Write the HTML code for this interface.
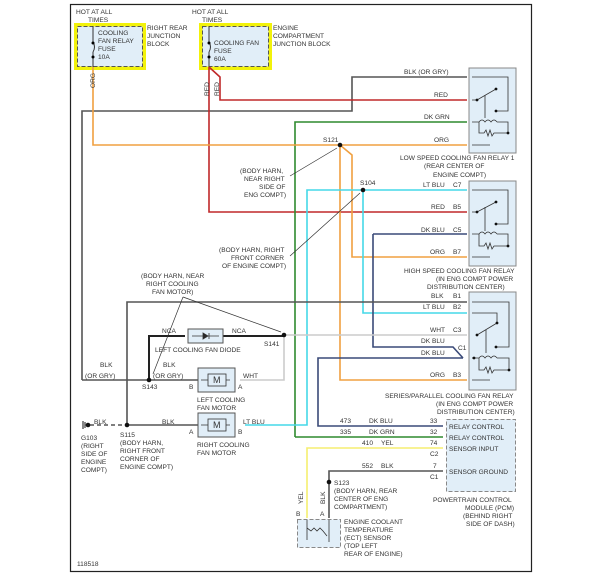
<!DOCTYPE html>
<html><head><meta charset="utf-8"><style>
body{margin:0;background:#fff}
svg{display:block}
text{font-family:"Liberation Sans",sans-serif;font-size:6.6px;fill:#333}
.w{fill:none;stroke-width:1.6}
</style></head><body>
<svg width="604" height="586" viewBox="0 0 604 586" xmlns="http://www.w3.org/2000/svg">
<rect x="70.5" y="4.5" width="461" height="567" fill="none" stroke="#222" stroke-width="1.2"/>
<!-- fuse boxes -->
<rect x="74" y="23" width="72" height="47" fill="#f2f20a"/>
<rect x="77.5" y="26.5" width="65" height="40" fill="#e1eef8" stroke="#555" stroke-dasharray="4,2"/>
<rect x="199" y="23" width="73" height="47" fill="#f2f20a"/>
<rect x="202.5" y="26.5" width="66" height="40" fill="#e1eef8" stroke="#555" stroke-dasharray="4,2"/>
<path d="M93 26 V42 M93 52 V67 M209 26 V42 M209 52 V67" stroke="#333" fill="none"/>
<path d="M93 42 q3 5 0 10 M209 42 q3 5 0 10" stroke="#333" fill="none"/>
<circle cx="93" cy="43" r="1.5"/><circle cx="93" cy="57" r="1.5"/><circle cx="209" cy="43" r="1.5"/><circle cx="209" cy="57" r="1.5"/>
<text x="76" y="14">HOT AT ALL</text><text x="88" y="22">TIMES</text>
<text x="98" y="35">COOLING</text><text x="98" y="43">FAN RELAY</text><text x="98" y="51">FUSE</text><text x="98" y="59">10A</text>
<text x="147" y="30">RIGHT REAR</text><text x="147" y="38">JUNCTION</text><text x="147" y="46">BLOCK</text>
<text x="192" y="14">HOT AT ALL</text><text x="202" y="22">TIMES</text>
<text x="214" y="45">COOLING FAN</text><text x="214" y="53">FUSE</text><text x="214" y="61">60A</text>
<text x="273" y="30">ENGINE</text><text x="273" y="38">COMPARTMENT</text><text x="273" y="46">JUNCTION BLOCK</text>
<!-- wires -->
<path class="w" stroke="#555" d="M82 380 V111 H352 V77 H467"/>
<path class="w" stroke="#c0282a" d="M209 67 L220 77 V100 H467"/>
<path class="w" stroke="#c0282a" d="M209 67 V212 H467"/>
<path class="w" stroke="#2f8a2f" d="M295 437 V122 H467"/>
<path class="w" stroke="#f0a040" d="M93 67 V145 H467"/>
<path class="w" stroke="#f0a040" d="M340 145 V380 H467"/>
<path class="w" stroke="#f0a040" d="M340 145 L352 155 V257 H467"/>
<path class="w" stroke="#45d8e8" d="M245 425 H307 V190 H467"/>
<path class="w" stroke="#45d8e8" d="M363 190 V313 H467"/>
<path class="w" stroke="#3a4a78" d="M373 234 H467 M373 234 V347 H453 L463 358"/>
<path class="w" stroke="#3a4a78" d="M463 358 H318 V426 H443"/>
<path class="w" stroke="#555" d="M127 425 V302 H467"/>
<path class="w" stroke="#ccc" d="M284 335 H467 M240 380 H284 V335"/>
<path class="w" stroke="#2f8a2f" d="M295 437 H443"/>
<path class="w" stroke="#f5ee70" d="M307 518 V448 H443"/>
<path class="w" stroke="#555" d="M329 518 V471 H443"/>
<path stroke="#222" stroke-width="2" fill="none" d="M149 380 V336 H185 M223 336 H284"/>
<path class="w" stroke="#555" d="M82 380 H198 M127 425 H198"/>
<path stroke="#555" stroke-width="1.4" stroke-dasharray="4,3" d="M90 425 H127"/>
<!-- dots -->
<g fill="#111"><circle cx="340" cy="145" r="2.3"/><circle cx="363" cy="190" r="2.3"/><circle cx="284" cy="335" r="2.3"/><circle cx="149" cy="380" r="2.3"/><circle cx="127" cy="425" r="2.3"/><circle cx="88" cy="425" r="2.3"/><circle cx="329" cy="482" r="2.3"/></g>
<path d="M83 421 V429 M85 422 V428" stroke="#111"/>
<!-- leader lines -->
<path stroke="#333" stroke-width="0.7" fill="none" d="M290 176 L337 148 M290 256 L360 193 M183 297 L153 374 M183 297 L281 332"/>
<!-- relays -->
<g fill="#e1eef8" stroke="#888">
<rect x="469" y="68" width="47" height="85"/><rect x="469" y="181" width="47" height="85"/><rect x="469" y="292" width="47" height="98"/>
</g>
<g stroke="#333" fill="none" stroke-width="0.8">
<path d="M472 77 H508 V111 H496 M472 100 H477 L496 89 M485 95 V118 M472 122 H479 q3 -4 6 0 q3 -4 6 0 q3 -4 6 0 M479 122 V133 H484 l2 -3 2 6 2 -6 2 6 2 -3 H508 V122 H497 M472 145 H490"/>
<path d="M472 190 H508 V224 H496 M472 212 H477 L496 202 M485 207 V231 M472 234 H479 q3 -4 6 0 q3 -4 6 0 q3 -4 6 0 M479 234 V246 H484 l2 -3 2 6 2 -6 2 6 2 -3 H508 V234 H497 M472 257 H490"/>
<path d="M472 302 H509 V347 H496 M472 313 H497 V323 L477 335 M486 330 V353 M472 358 H479 q3 -4 6 0 q3 -4 6 0 q3 -4 6 0 M479 358 V370 H484 l2 -3 2 6 2 -6 2 6 2 -3 H509 V358 H497 M472 380 H490"/>
</g>
<g fill="#111"><circle cx="477" cy="100" r="1.4"/><circle cx="496" cy="89" r="1.4"/><circle cx="496" cy="111" r="1.4"/><circle cx="508" cy="133" r="1.4"/>
<circle cx="477" cy="212" r="1.4"/><circle cx="496" cy="202" r="1.4"/><circle cx="496" cy="224" r="1.4"/><circle cx="508" cy="246" r="1.4"/>
<circle cx="477" cy="335" r="1.4"/><circle cx="497" cy="323" r="1.4"/><circle cx="496" cy="347" r="1.4"/><circle cx="509" cy="370" r="1.4"/><circle cx="474" cy="358" r="1.4"/></g>
<!-- labels relays -->
<text x="404" y="74">BLK (OR GRY)</text><text x="434" y="97">RED</text><text x="424" y="119">DK GRN</text><text x="434" y="142">ORG</text>
<text x="400" y="160">LOW SPEED COOLING FAN RELAY 1</text><text x="424" y="168">(REAR CENTER OF</text><text x="433" y="177">ENGINE COMPT)</text>
<text x="423" y="187">LT BLU</text><text x="453" y="187">C7</text><text x="431" y="209">RED</text><text x="453" y="209">B5</text>
<text x="421" y="232">DK BLU</text><text x="453" y="232">C5</text><text x="430" y="254">ORG</text><text x="453" y="254">B7</text>
<text x="404" y="273">HIGH SPEED COOLING FAN RELAY</text><text x="436" y="281">(IN ENG COMPT POWER</text><text x="427" y="289">DISTRIBUTION CENTER)</text>
<text x="431" y="298">BLK</text><text x="453" y="298">B1</text><text x="423" y="309">LT BLU</text><text x="453" y="309">B2</text>
<text x="430" y="332">WHT</text><text x="453" y="332">C3</text><text x="421" y="343">DK BLU</text><text x="458" y="350">C1</text><text x="421" y="355">DK BLU</text>
<text x="430" y="377">ORG</text><text x="453" y="377">B3</text>
<text x="385" y="398">SERIES/PARALLEL COOLING FAN RELAY</text><text x="436" y="406">(IN ENG COMPT POWER</text><text x="437" y="414">DISTRIBUTION CENTER)</text>
<text x="323" y="142">S121</text><text x="360" y="185">S104</text>
<text x="240" y="173">(BODY HARN,</text><text x="244" y="181">NEAR RIGHT</text><text x="259" y="189">SIDE OF</text><text x="244" y="197">ENG COMPT)</text>
<text x="219" y="252">(BODY HARN, RIGHT</text><text x="231" y="260">FRONT CORNER</text><text x="222" y="268">OF ENGINE COMPT)</text>
<text x="141" y="278">(BODY HARN, NEAR</text><text x="146" y="286">RIGHT COOLING</text><text x="152" y="294">FAN MOTOR)</text>
<!-- diode -->
<rect x="188" y="329" width="35" height="14" fill="#e1eef8" stroke="#555"/>
<path d="M192 336 H219 M203 333 L208 336 L203 339 Z M209 333 V339" stroke="#333" fill="#222" stroke-width="0.8"/>
<text x="162" y="333">NCA</text><text x="232" y="333">NCA</text><text x="264" y="346">S141</text>
<text x="155" y="352">LEFT COOLING FAN DIODE</text>
<!-- motors -->
<rect x="198" y="368" width="37" height="24" fill="#e1eef8" stroke="#555"/>
<rect x="198" y="413" width="37" height="24" fill="#e1eef8" stroke="#555"/>
<g stroke="#333" fill="none" stroke-width="0.8"><path d="M201 380 H230 M201 425 H230"/><rect x="208" y="374" width="18" height="12" fill="#e1eef8"/><rect x="208" y="419" width="18" height="12" fill="#e1eef8"/></g>
<text x="213" y="383" style="font-size:9px">M</text><text x="213" y="428" style="font-size:9px">M</text>
<text x="100" y="367">BLK</text><text x="85" y="378">(OR GRY)</text><text x="163" y="367">BLK</text><text x="153" y="378">(OR GRY)</text>
<text x="142" y="389">S143</text><text x="189" y="389">B</text><text x="238" y="389">A</text><text x="243" y="378">WHT</text>
<text x="197" y="402">LEFT COOLING</text><text x="197" y="410">FAN MOTOR</text>
<text x="94" y="424">BLK</text><text x="162" y="424">BLK</text><text x="243" y="424">LT BLU</text><text x="189" y="434">A</text><text x="238" y="434">B</text>
<text x="197" y="447">RIGHT COOLING</text><text x="197" y="455">FAN MOTOR</text>
<text x="81" y="440">G103</text><text x="81" y="448">(RIGHT</text><text x="81" y="456">SIDE OF</text><text x="81" y="464">ENGINE</text><text x="81" y="472">COMPT)</text>
<text x="120" y="437">S115</text><text x="120" y="445">(BODY HARN,</text><text x="120" y="453">RIGHT FRONT</text><text x="120" y="461">CORNER OF</text><text x="120" y="469">ENGINE COMPT)</text>
<!-- PCM -->
<rect x="446.5" y="419.5" width="69" height="72" fill="#e1eef8" stroke="#888" stroke-dasharray="4,2"/>
<text x="340" y="423">473</text><text x="369" y="423">DK BLU</text><text x="430" y="423">33</text><text x="449" y="429">RELAY CONTROL</text>
<text x="340" y="434">335</text><text x="369" y="434">DK GRN</text><text x="430" y="434">32</text><text x="449" y="440">RELAY CONTROL</text>
<text x="362" y="445">410</text><text x="381" y="445">YEL</text><text x="430" y="445">74</text><text x="449" y="451">SENSOR INPUT</text><text x="430" y="456">C2</text>
<text x="362" y="468">552</text><text x="381" y="468">BLK</text><text x="433" y="468">7</text><text x="449" y="474">SENSOR GROUND</text><text x="430" y="479">C1</text>
<text x="433" y="502">POWERTRAIN CONTROL</text><text x="465" y="510">MODULE (PCM)</text><text x="463" y="518">(BEHIND RIGHT</text><text x="466" y="526">SIDE OF DASH)</text>
<text x="334" y="485">S123</text><text x="334" y="493">(BODY HARN, REAR</text><text x="334" y="501">CENTER OF ENG</text><text x="334" y="509">COMPARTMENT)</text>
<!-- ECT -->
<rect x="297.5" y="519.5" width="43" height="28" fill="#e1eef8" stroke="#888" stroke-dasharray="4,2"/>
<path d="M307 520 V540 M329 520 V542 M307 528 l4 3 3 -3 3 3 3 -3 3 3 4 5" stroke="#333" fill="none" stroke-width="0.8"/>
<text x="296" y="516">B</text><text x="320" y="516">A</text>
<text transform="translate(303,504) rotate(-90)">YEL</text><text transform="translate(325,504) rotate(-90)">BLK</text>
<text transform="translate(95,88) rotate(-90)">ORG</text>
<text transform="translate(209,96) rotate(-90)">RED</text><text transform="translate(219,96) rotate(-90)">RED</text>
<text x="344" y="524">ENGINE COOLANT</text><text x="344" y="532">TEMPERATURE</text><text x="344" y="540">(ECT) SENSOR</text><text x="344" y="548">(TOP LEFT</text><text x="344" y="556">REAR OF ENGINE)</text>
<text x="77" y="566">118518</text>
</svg>
</body></html>
